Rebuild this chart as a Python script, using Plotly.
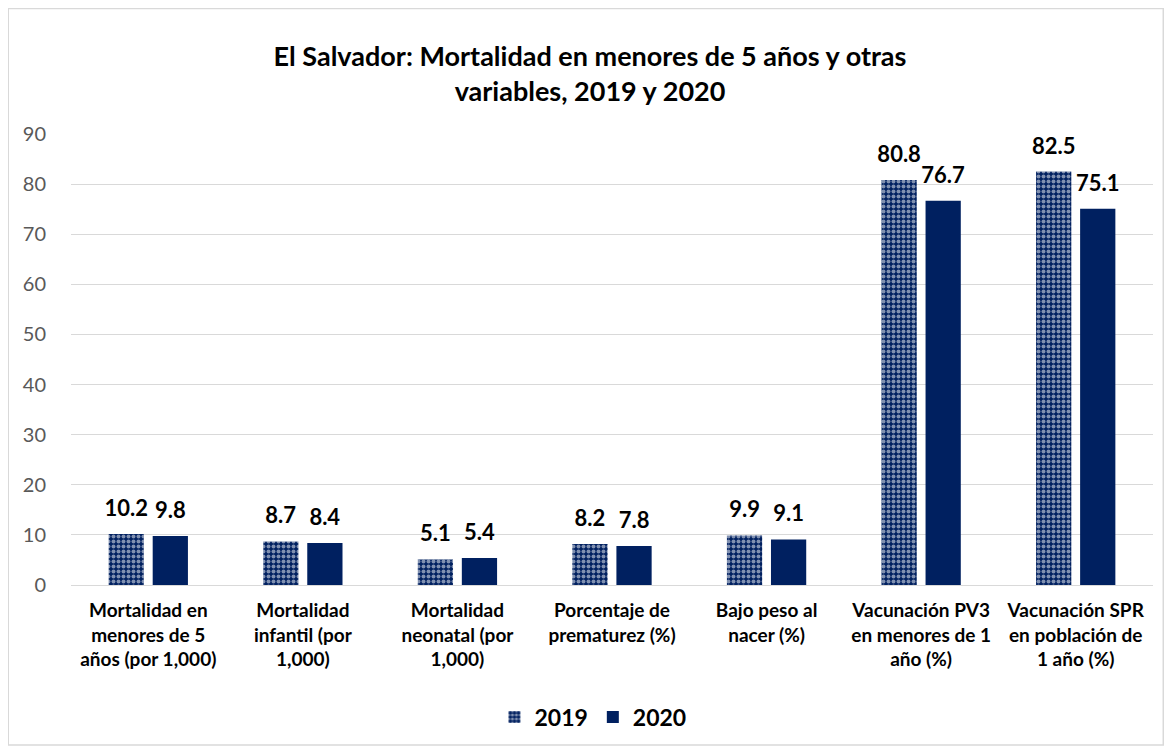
import plotly.graph_objects as go

categories = [
    "Mortalidad en<br>menores de 5<br>años (por 1,000)",
    "Mortalidad<br>infantil (por<br>1,000)",
    "Mortalidad<br>neonatal (por<br>1,000)",
    "Porcentaje de<br>prematurez (%)",
    "Bajo peso al<br>nacer (%)",
    "Vacunación PV3<br>en menores de 1<br>año (%)",
    "Vacunación SPR<br>en población de<br>1 año (%)",
]
values_2019 = [10.2, 8.7, 5.1, 8.2, 9.9, 80.8, 82.5]
values_2020 = [9.8, 8.4, 5.4, 7.8, 9.1, 76.7, 75.1]
tick_vals = [0, 10, 20, 30, 40, 50, 60, 70, 80, 90]

NAVY = "#002060"
FONT = "Lato"
LABEL_PX = 22


def label(v):
    return f"<span style='font-size:{LABEL_PX}px'>{v:.1f}</span><br>&nbsp;"


fig = go.Figure()
fig.add_trace(go.Bar(
    name="2019", x=categories, y=values_2019,
    marker=dict(color=NAVY, line=dict(width=0),
                pattern=dict(shape=".", fgcolor="white", bgcolor=NAVY,
                             size=5, solidity=0.5, fillmode="overlay")),
    text=[label(v) for v in values_2019], textposition="outside",
    textfont=dict(family=FONT, size=10, color="black", weight="bold"),
    constraintext="none", cliponaxis=False,
))
fig.add_trace(go.Bar(
    name="2020", x=categories, y=values_2020,
    marker=dict(color=NAVY, line=dict(width=0)),
    text=[label(v) for v in values_2020], textposition="outside",
    textfont=dict(family=FONT, size=10, color="black", weight="bold"),
    constraintext="none", cliponaxis=False,
))

fig.update_layout(
    width=1164, height=743,
    paper_bgcolor="white", plot_bgcolor="white",
    margin=dict(l=63, r=19, t=126, b=166, pad=0),
    barmode="group", bargap=0.43, bargroupgap=0.2,
    title=dict(text="<b>El Salvador: Mortalidad en menores de 5 años y otras<br>variables, 2019 y 2020</b>",
               x=0.5, xanchor="center", y=0.922, yanchor="middle",
               font=dict(family=FONT, size=27, color="#000000")),
    font=dict(family=FONT),
    legend=dict(orientation="h", x=0.4824, xanchor="center", y=-0.2927, yanchor="middle",
                font=dict(family=FONT, size=23, color="black", weight="bold"),
                traceorder="normal"),
    xaxis=dict(showgrid=False, showline=False, ticks="", ticklabelstandoff=12,
               tickfont=dict(family=FONT, size=19, color="black", weight="bold")),
    yaxis=dict(range=[0, 90], tickvals=tick_vals, showgrid=True, gridcolor="#d9d9d9",
               gridwidth=1, zeroline=True, zerolinecolor="#d9d9d9", zerolinewidth=1,
               showline=False, ticks="", ticklabelstandoff=24,
               tickfont=dict(family=FONT, size=20, color="#595959")),
    shapes=[dict(type="rect", xref="paper", yref="paper",
                 x0=-0.0580, x1=1.0095, y0=-0.3548, y1=1.2783,
                 line=dict(color="#d9d9d9", width=1.5), fillcolor="rgba(0,0,0,0)")],
)

fig.write_html("out.html")
